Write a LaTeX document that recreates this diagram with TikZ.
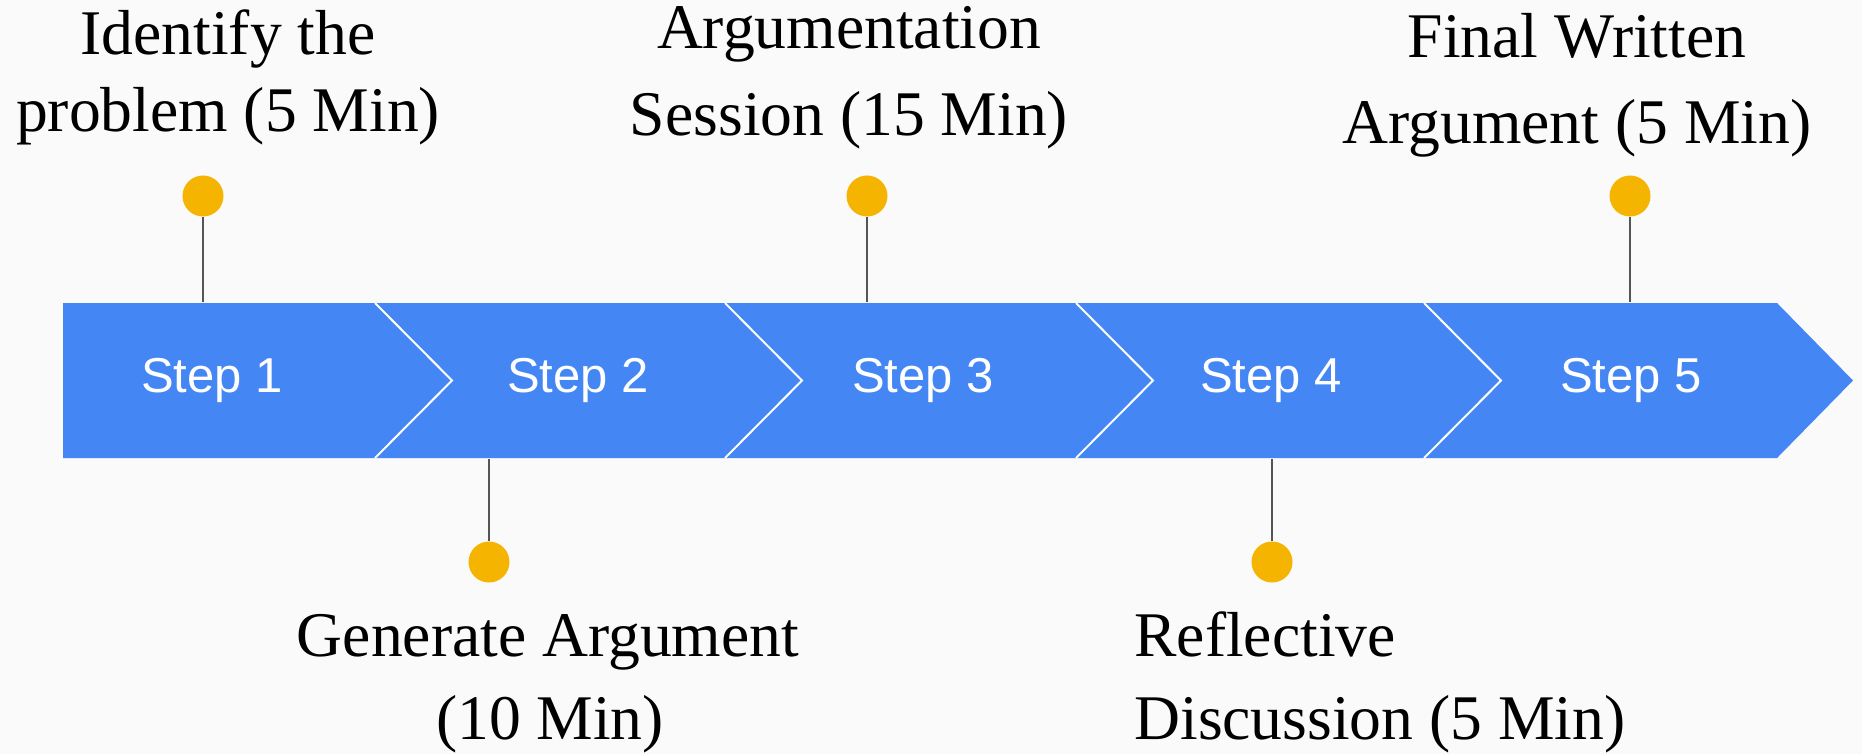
\documentclass[tikz,border=0pt]{standalone}
\usepackage{fontspec}
\setmainfont{Liberation Serif}
\newfontfamily\stepfont{Liberation Sans}
\definecolor{bandblue}{HTML}{4487F4}
\definecolor{dotyellow}{HTML}{F4B400}
\definecolor{stemgray}{HTML}{555555}
\definecolor{bg}{HTML}{FAFAFA}
\begin{document}
\begin{tikzpicture}[x=0.5pt,y=-0.5pt,
  dot/.style={circle,fill=dotyellow,minimum size=20.5pt,inner sep=0pt},
  stem/.style={draw=stemgray,line width=1.3pt},
  sep/.style={draw=white,line width=1pt},
  steplabel/.style={text=white,font=\stepfont\fontsize{24.5}{28}\selectfont,inner sep=0pt},
  desc/.style={font=\fontsize{31.8}{38}\selectfont,inner sep=0pt,anchor=base}]
\fill[bg] (0,0) rectangle (1862,754);
\useasboundingbox (0,0) rectangle (1862,754);
% band
\fill[bandblue] (63,303) -- (1777,303) -- (1853,380.5) -- (1777,458) -- (63,458) -- cycle;
\foreach \b in {375,725,1076,1424}{
  \draw[sep] (\b,303) -- (\b+77,380.5) -- (\b,458);
}
% step labels
\node[steplabel] (s1) at (212,380) {Step 1};
\node[steplabel] (s2) at (578,380) {Step 2};
\node[steplabel] (s3) at (923,380) {Step 3};
\node[steplabel] (s4) at (1271,380) {Step 4};
\node[steplabel] (s5) at (1631,380) {Step 5};
% band anchor points
\coordinate (b1) at (203,302);
\coordinate (b2) at (489,459);
\coordinate (b3) at (867,302);
\coordinate (b4) at (1272,459);
\coordinate (b5) at (1630,302);
% dots
\node[dot] (d1) at (203,196) {};
\node[dot] (d2) at (489,562) {};
\node[dot] (d3) at (867,196) {};
\node[dot] (d4) at (1272,562) {};
\node[dot] (d5) at (1630,196) {};
\draw[stem] (d1) -- (b1);
\draw[stem] (d2) -- (b2);
\draw[stem] (d3) -- (b3);
\draw[stem] (d4) -- (b4);
\draw[stem] (d5) -- (b5);
% descriptions
\node[desc] (t1a) at (228,55) {Identify the};
\node[desc] (t1b) at (228,132) {problem (5 Min)};
\node[desc] (t3a) at (849,49) {Argumentation};
\node[desc] (t3b) at (849,136) {Session (15 Min)};
\node[desc] (t5a) at (1577,58) {Final Written};
\node[desc] (t5b) at (1577,144) {Argument (5 Min)};
\node[desc] (t2a) at (548,656) {Generate Argument};
\node[desc] (t2b) at (550,739) {(10 Min)};
\node[desc,anchor=base west] (t4a) at (1134,656) {Reflective};
\node[desc,anchor=base west] (t4b) at (1134,739) {Discussion (5 Min)};
\end{tikzpicture}
\end{document}
